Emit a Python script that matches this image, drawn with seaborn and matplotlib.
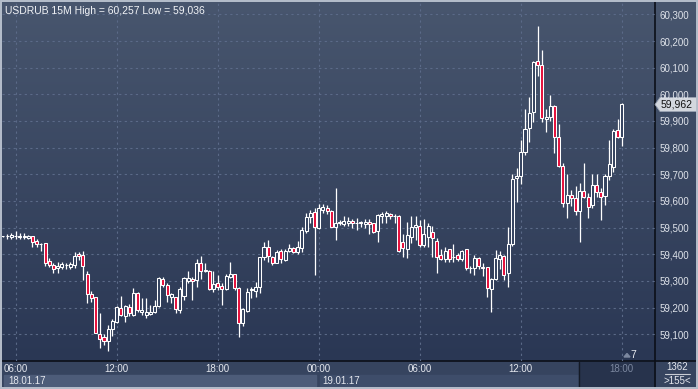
import numpy as np
import pandas as pd
import matplotlib
matplotlib.use('Agg')
import matplotlib.pyplot as plt
import matplotlib.transforms as mtrans
from matplotlib.patches import Rectangle, Polygon
import seaborn as sns

sns.set_theme(style='dark')
plt.rcParams['font.family'] = ['Liberation Sans', 'DejaVu Sans']

# ---- data: USDRUB 15M candles, 18.01.17 05:15 -> 19.01.17 18:00
symbol = 'USDRUB'
timeframe = '15M'
start_time = '2017-01-18 05:15'

opens = [59.468, 59.468, 59.463, 59.467, 59.465, 59.465, 59.460, 59.468, 59.448, 59.437,
         59.442, 59.373, 59.360, 59.348, 59.353, 59.358, 59.351, 59.358, 59.402, 59.396,
         59.325, 59.251, 59.238, 59.101, 59.088, 59.076, 59.118, 59.147, 59.200, 59.170,
         59.203, 59.172, 59.253, 59.183, 59.173, 59.176, 59.183, 59.206, 59.306, 59.285,
         59.238, 59.238, 59.191, 59.243, 59.300, 59.306, 59.303, 59.366, 59.338, 59.338,
         59.271, 59.291, 59.281, 59.271, 59.313, 59.326, 59.272, 59.143, 59.188, 59.266,
         59.263, 59.278, 59.388, 59.426, 59.391, 59.368, 59.411, 59.378, 59.411, 59.422,
         59.408, 59.422, 59.488, 59.541, 59.560, 59.497, 59.566, 59.574, 59.564, 59.503,
         59.518, 59.513, 59.518, 59.525, 59.516, 59.517, 59.513, 59.520, 59.516, 59.488,
         59.543, 59.543, 59.551, 59.543, 59.543, 59.445, 59.418, 59.466, 59.501, 59.506,
         59.435, 59.466, 59.483, 59.450, 59.397, 59.383, 59.418, 59.389, 59.396, 59.383,
         59.418, 59.347, 59.347, 59.386, 59.353, 59.351, 59.268, 59.309, 59.381, 59.393,
         59.328, 59.437, 59.685, 59.694, 59.785, 59.872, 59.932, 60.124, 60.110, 59.906,
         59.916, 59.957, 59.839, 59.732, 59.591, 59.621, 59.610, 59.563, 59.638, 59.613,
         59.583, 59.660, 59.635, 59.618, 59.693, 59.729, 59.866, 59.841]
highs = [59.470, 59.476, 59.481, 59.487, 59.481, 59.478, 59.471, 59.469, 59.456, 59.444,
         59.443, 59.385, 59.368, 59.371, 59.370, 59.366, 59.372, 59.410, 59.410, 59.411,
         59.338, 59.263, 59.238, 59.178, 59.101, 59.133, 59.158, 59.206, 59.243, 59.210,
         59.213, 59.272, 59.260, 59.235, 59.235, 59.211, 59.228, 59.316, 59.316, 59.291,
         59.253, 59.241, 59.278, 59.316, 59.338, 59.316, 59.381, 59.393, 59.366, 59.341,
         59.337, 59.322, 59.291, 59.326, 59.371, 59.326, 59.276, 59.197, 59.272, 59.276,
         59.295, 59.391, 59.446, 59.453, 59.393, 59.416, 59.418, 59.418, 59.437, 59.428,
         59.451, 59.503, 59.554, 59.566, 59.572, 59.589, 59.587, 59.585, 59.566, 59.650,
         59.529, 59.544, 59.541, 59.531, 59.535, 59.526, 59.531, 59.531, 59.518, 59.551,
         59.560, 59.563, 59.556, 59.551, 59.546, 59.476, 59.522, 59.543, 59.543, 59.528,
         59.531, 59.516, 59.506, 59.460, 59.418, 59.426, 59.421, 59.438, 59.406, 59.416,
         59.421, 59.356, 59.396, 59.388, 59.368, 59.353, 59.310, 59.416, 59.413, 59.396,
         59.502, 59.701, 59.722, 59.829, 59.944, 59.989, 60.126, 60.257, 60.166, 59.945,
         59.997, 59.960, 59.889, 59.741, 59.703, 59.641, 59.656, 59.666, 59.741, 59.631,
         59.703, 59.701, 59.647, 59.703, 59.829, 59.869, 59.907, 59.969]
lows = [59.466, 59.456, 59.458, 59.458, 59.457, 59.456, 59.457, 59.426, 59.428, 59.414,
        59.357, 59.353, 59.331, 59.328, 59.346, 59.345, 59.346, 59.347, 59.378, 59.303,
        59.218, 59.222, 59.103, 59.047, 59.059, 59.036, 59.093, 59.141, 59.168, 59.147,
        59.170, 59.168, 59.185, 59.172, 59.160, 59.172, 59.178, 59.203, 59.278, 59.220,
        59.218, 59.178, 59.181, 59.228, 59.291, 59.228, 59.278, 59.306, 59.335, 59.266,
        59.260, 59.266, 59.210, 59.266, 59.311, 59.266, 59.091, 59.131, 59.184, 59.234,
        59.241, 59.253, 59.378, 59.372, 59.358, 59.366, 59.366, 59.376, 59.408, 59.403,
        59.401, 59.410, 59.478, 59.516, 59.322, 59.493, 59.556, 59.550, 59.504, 59.453,
        59.510, 59.506, 59.506, 59.497, 59.491, 59.503, 59.497, 59.476, 59.481, 59.447,
        59.516, 59.516, 59.531, 59.516, 59.410, 59.388, 59.385, 59.441, 59.453, 59.428,
        59.428, 59.428, 59.391, 59.328, 59.378, 59.370, 59.370, 59.370, 59.374, 59.376,
        59.341, 59.331, 59.323, 59.343, 59.319, 59.241, 59.184, 59.303, 59.343, 59.303,
        59.278, 59.430, 59.597, 59.662, 59.772, 59.822, 59.897, 60.070, 59.897, 59.860,
        59.901, 59.779, 59.726, 59.578, 59.537, 59.581, 59.547, 59.447, 59.610, 59.537,
        59.575, 59.616, 59.528, 59.585, 59.678, 59.710, 59.835, 59.806]
closes = [59.468, 59.470, 59.471, 59.469, 59.469, 59.468, 59.469, 59.445, 59.437, 59.439,
          59.368, 59.358, 59.346, 59.357, 59.365, 59.360, 59.365, 59.393, 59.393, 59.357,
          59.251, 59.237, 59.106, 59.083, 59.076, 59.121, 59.151, 59.203, 59.171, 59.206,
          59.178, 59.253, 59.191, 59.191, 59.183, 59.183, 59.206, 59.310, 59.283, 59.247,
          59.250, 59.195, 59.268, 59.310, 59.310, 59.298, 59.366, 59.338, 59.341, 59.271,
          59.287, 59.278, 59.271, 59.318, 59.326, 59.272, 59.143, 59.193, 59.258, 59.268,
          59.276, 59.388, 59.426, 59.393, 59.366, 59.410, 59.383, 59.413, 59.422, 59.410,
          59.428, 59.491, 59.541, 59.553, 59.503, 59.572, 59.576, 59.564, 59.504, 59.516,
          59.520, 59.525, 59.523, 59.516, 59.518, 59.521, 59.520, 59.513, 59.485, 59.547,
          59.551, 59.553, 59.543, 59.545, 59.412, 59.422, 59.472, 59.503, 59.510, 59.435,
          59.476, 59.506, 59.460, 59.391, 59.383, 59.412, 59.383, 59.391, 59.383, 59.412,
          59.347, 59.349, 59.386, 59.357, 59.347, 59.272, 59.306, 59.386, 59.396, 59.322,
          59.437, 59.681, 59.694, 59.782, 59.869, 59.931, 60.120, 60.110, 59.910, 59.914,
          59.957, 59.841, 59.732, 59.593, 59.622, 59.610, 59.563, 59.638, 59.616, 59.578,
          59.658, 59.635, 59.616, 59.693, 59.737, 59.862, 59.841, 59.962]

price_ticks = [59.1, 59.2, 59.3, 59.4, 59.5, 59.6, 59.7, 59.8, 59.9, 60.0, 60.1, 60.2, 60.3]
date_labels = ['18.01.17', '19.01.17']
bars_shown = 1362
bars_zoom = '>155<'
future_bars = '7'

df = pd.DataFrame({'time': pd.date_range(start_time, periods=len(opens), freq='15min'),
                   'open': opens, 'high': highs, 'low': lows, 'close': closes})
df['idx'] = np.arange(len(df))
df['up'] = df['close'] >= df['open']

def fmt(v):
    return f'{v:.3f}'.replace('.', ',')

# ---- figure, pixel based background layer
W, H = 698, 389
fig = plt.figure(figsize=(W / 100, H / 100), dpi=100)
bg = fig.add_axes([0, 0, 1, 1])
bg.set_xlim(0, W)
bg.set_ylim(H, 0)
bg.axis('off')

top_c = np.array([72, 86, 110]) / 255
bot_c = np.array([42, 55, 84]) / 255
t = np.linspace(0, 1, 361)[:, None, None]
grad = top_c * (1 - t) + bot_c * t
bg.imshow(grad, extent=[0, W, 361, 0], aspect='auto', zorder=0)

# main chart axes
x_left, x_right, y_top, y_bot = 2, 655, 2, 361
ax = fig.add_axes([x_left / W, 1 - y_bot / H, (x_right - x_left) / W, (y_bot - y_top) / H])
ax.set_facecolor('none')
px_per_bar = 4.21
x0_px = 2.97
ax.set_xlim((x_left - x0_px) / px_per_bar, (x_right - x0_px) / px_per_bar)
ax.set_ylim(60.3 - (y_bot - 14.4) / 266.5, 60.3 + (14.4 - y_top) / 266.5)

# candles
ax.vlines(df['idx'], df['low'], df['high'], color='white', linewidth=0.9, zorder=2)
body_low = df[['open', 'close']].min(axis=1)
body_h = (df['close'] - df['open']).abs().clip(lower=0.002)
ax.bar(df['idx'], body_h, bottom=body_low, width=0.72,
       color=np.where(df['up'], '#35435f', '#e5103c'),
       edgecolor='white', linewidth=0.75, zorder=3)

# grid and ticks
tick_idx = df.index[df['time'].dt.hour.isin([0, 6, 12, 18]) & (df['time'].dt.minute == 0)]
ax.set_xticks(tick_idx)
ax.set_xticklabels([df['time'][i].strftime('%H:%M') for i in tick_idx])
ax.set_yticks(price_ticks)
ax.set_yticklabels([fmt(v) for v in price_ticks])
ax.yaxis.tick_right()
ax.tick_params(axis='y', length=0, pad=3, labelsize=7, labelcolor='#dfe3ea')
ax.tick_params(axis='x', length=0, pad=2, labelsize=7, labelcolor='#e4e7ee')
ax.get_xticklabels()[-1].set_color('#7c88a0')
ax.grid(True, color='#5b6a88', linestyle=(0, (2, 3)), linewidth=0.8)
for s in ax.spines.values():
    s.set_visible(False)

ax.text(3 / (x_right - x_left), 1 - 9 / (y_bot - y_top),
        f'{symbol} {timeframe} High = {fmt(max(highs))} Low = {fmt(min(lows))}',
        transform=ax.transAxes, fontsize=7.5, color='#f2f4f7', va='center', ha='left')

# ---- time strip
bx = mtrans.blended_transform_factory(ax.transData, bg.transData)
bg.add_patch(Rectangle((0, 361), W, 28, color='#36445f', zorder=1))
day2 = df.index[df['time'] == pd.Timestamp('2017-01-19 00:00')][0]
last = df.index[-1]
bg.add_patch(Rectangle((4, 375), 316 - 4, 11, color='#4d5c79', zorder=2))
bg.add_patch(Rectangle((day2 + 0.3, 375), 137, 11, transform=bx, color='#3e4d6a', zorder=2))
bg.text(8, 381, date_labels[0], fontsize=7, color='#e4e7ee', va='center', zorder=3)
bg.text(day2 + 0.8, 381, date_labels[1], transform=bx, fontsize=7, color='#e4e7ee',
        va='center', zorder=3)
bg.add_patch(Rectangle((579, 362), 655 - 579, 26, color='#27334c', zorder=2))
bg.plot([579, 579], [362, 388], color='#141a26', linewidth=1, zorder=3)

# future bars marker
bg.text(last + 2, 355, future_bars, transform=bx, fontsize=7.5, color='#e8ebf0',
        va='center', ha='left', zorder=4)
bg.add_patch(Polygon([[624, 357], [627, 353.5], [630, 357]], color='#7c88a0', zorder=4))

# right-bottom counter box
bg.add_patch(Rectangle((656, 362), 42, 27, color='#36445f', zorder=2))
bg.text(677, 367.5, str(bars_shown), fontsize=7, color='#e4e7ee', ha='center', va='center', zorder=3)
bg.plot([665, 690], [374, 374], color='#c8ccd4', linewidth=0.8, zorder=3)
bg.text(677, 381.5, bars_zoom, fontsize=7, color='#e4e7ee', ha='center', va='center', zorder=3)

# current price tag
last_y = 14.4 + (60.3 - closes[-1]) * 266.5
bg.add_patch(Polygon([[655, last_y], [660, last_y - 7], [697, last_y - 7],
                      [697, last_y + 7], [660, last_y + 7]],
                     facecolor='#d3d7de', edgecolor='#9aa3b3', linewidth=0.6, zorder=5))
bg.text(661, last_y, fmt(closes[-1]), fontsize=7.5, color='#111111', va='center', zorder=6)

# separators and frame
bg.plot([655, 655], [0, H], color='#0b0f18', linewidth=1.2, zorder=4)
bg.plot([0, W], [361, 361], color='#0b0f18', linewidth=1.2, zorder=4)
bg.add_patch(Rectangle((0.7, 0.7), W - 1.4, H - 1.4, fill=False, edgecolor='#b7bfcc',
                       linewidth=1.4, zorder=6))

fig.savefig('out.png', dpi=100)
